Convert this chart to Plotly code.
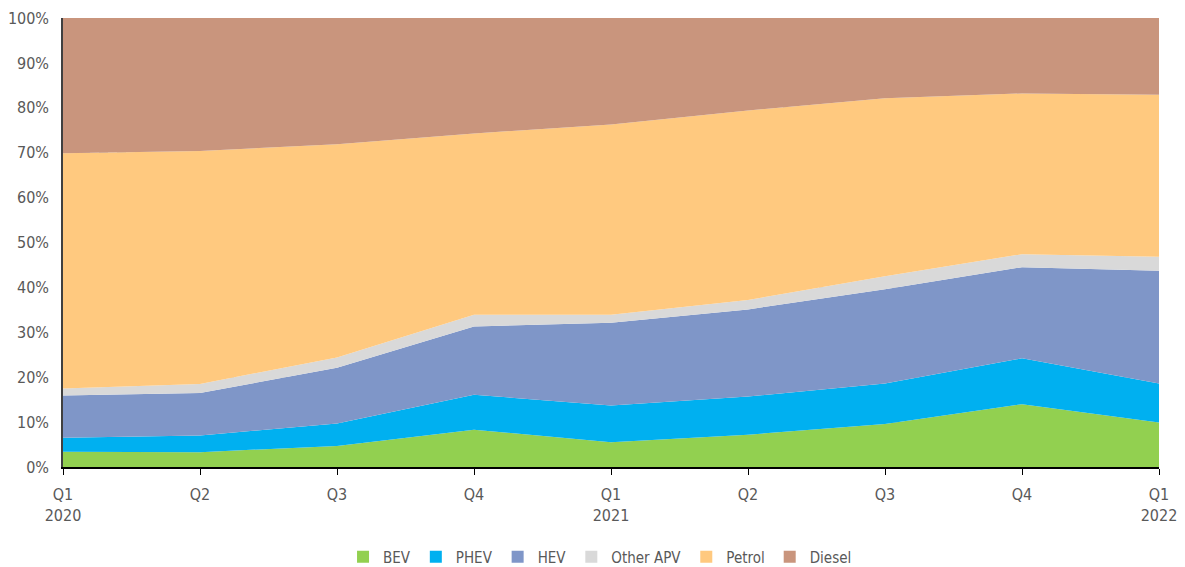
import plotly.graph_objects as go

quarters = ["Q1<br>2020", "Q2", "Q3", "Q4", "Q1<br>2021", "Q2", "Q3", "Q4", "Q1<br>2022"]
pct_vals = [0, 10, 20, 30, 40, 50, 60, 70, 80, 90, 100]
pct_text = [f"{v}%" for v in pct_vals]
bev = [3.4, 3.3, 4.7, 8.3, 5.5, 7.2, 9.6, 14.0, 9.9]
phev = [3.1, 3.7, 5.0, 7.8, 8.2, 8.5, 9.0, 10.2, 8.7]
hev = [9.4, 9.5, 12.4, 15.2, 18.4, 19.4, 21.0, 20.3, 25.1]
other_apv = [1.6, 2.0, 2.3, 2.6, 1.8, 2.1, 2.9, 2.9, 3.1]
petrol = [52.4, 51.9, 47.5, 40.4, 42.4, 42.2, 39.6, 35.8, 36.1]
diesel = [30.1, 29.6, 28.1, 25.7, 23.7, 20.6, 17.9, 16.8, 17.1]

series = [
    ("BEV", bev, "#92D050"),
    ("PHEV", phev, "#00B0F0"),
    ("HEV", hev, "#7F96C8"),
    ("Other APV", other_apv, "#D9D9D9"),
    ("Petrol", petrol, "#FFC97F"),
    ("Diesel", diesel, "#C9957D"),
]

x = list(range(len(quarters)))
fig = go.Figure()
for name, vals, col in series:
    fig.add_trace(go.Scatter(
        x=x, y=vals, name=name, mode="lines", stackgroup="one",
        line=dict(width=0, color=col), fillcolor=col, showlegend=False,
    ))
# legend entries with square swatches
for name, vals, col in series:
    fig.add_trace(go.Scatter(
        x=[None], y=[None], name=name, mode="markers",
        marker=dict(symbol="square", size=12, color=col), showlegend=True,
    ))

font_family = "DejaVu Sans Condensed, Liberation Sans Narrow, sans-serif"
fig.update_layout(
    width=1177, height=559,
    margin=dict(l=55, r=26, t=10, b=100),
    paper_bgcolor="white", plot_bgcolor="white",
    font=dict(family=font_family, size=16, color="#595959"),
    showlegend=True,
    legend=dict(orientation="h", x=0.49, xanchor="center",
                yref="container", y=0.018, yanchor="middle",
                font=dict(family=font_family, size=15, color="#595959"), traceorder="normal",
                itemwidth=30, tracegroupgap=0),
    xaxis=dict(
        range=[0, 8], tickmode="array", tickvals=x, ticktext=quarters,
        showline=True, linecolor="#000000", linewidth=1.5,
        ticks="outside", ticklen=6, tickcolor="#000000",
        showgrid=False, zeroline=False, layer="above traces", automargin=False,
        ticklabelstandoff=6,
        tickfont=dict(family=font_family, size=16, color="#595959"),
    ),
    yaxis=dict(
        range=[0, 100], tickmode="array", tickvals=pct_vals, ticktext=pct_text,
        showline=True, linecolor="#404040", linewidth=1.5,
        showgrid=True, gridcolor="rgba(140,140,140,0.35)", griddash="dash", gridwidth=1,
        zeroline=False, layer="above traces", ticks="", automargin=False,
        ticklabelstandoff=9,
        tickfont=dict(family=font_family, size=16, color="#595959"),
    ),
)

fig.write_html("out.html")
